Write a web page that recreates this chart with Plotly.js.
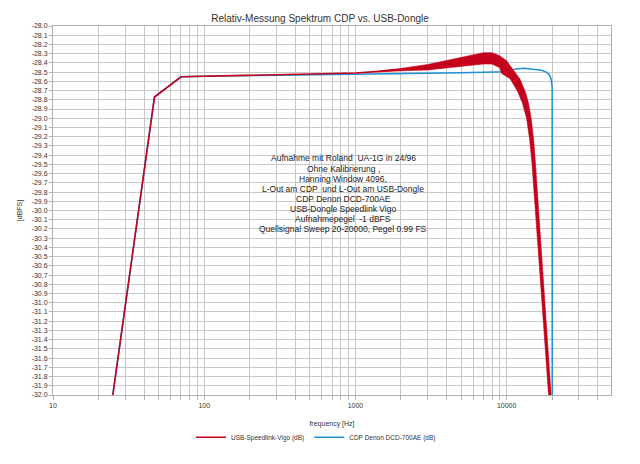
<!DOCTYPE html>
<html><head><meta charset="utf-8">
<script src="https://cdn.plot.ly/plotly-3.0.1.min.js"></script>
<style>html,body{margin:0;padding:0;background:#fff;}#chart{width:640px;height:464px;}</style>
</head><body><div id="chart"></div>
<script>
// ---- data ----
const chartTitle = 'Relativ-Messung Spektrum CDP vs. USB-Dongle';
const xTitle = 'frequency [Hz]';
const yTitle = '[dBFS]';
const seriesNames = ['USB-Speedlink-Vigo (dB)', 'CDP Denon DCD-700AE (dB)'];

const redFreq = [23.44, 46.88, 70.31, 93.75, 140.6, 210.9, 304.7, 492.2, 703.1, 1008,
  1430, 2000, 3000, 4000, 5000, 6000, 7000, 8000, 9000, 10000,
  11365, 12545, 13335, 14020, 14590, 15080, 15580, 16130, 16730, 17350,
  18090, 18850, 19290, 19680];
const redDb = [-32.30, -28.77, -28.55, -28.545, -28.54, -28.53, -28.525, -28.52, -28.515, -28.51,
  -28.492, -28.473, -28.447, -28.415, -28.388, -28.367, -28.351, -28.351, -28.383, -28.447,
  -28.574, -28.713, -28.840, -29.0, -29.213, -29.479, -29.798, -30.170, -30.543, -30.915,
  -31.340, -31.766, -32.0, -32.191];

// ripple band of the USB series (outer = top/right edge, inner = bottom/left edge)
const bandOuterFreq = [1430, 2000, 3000, 4000, 5000, 6000, 7000, 8000, 9000, 10000,
  12220, 13290, 13960, 14520, 15040, 15490, 15960, 16510, 17740, 19210, 20040];
const bandOuterDb = [-28.487, -28.460, -28.418, -28.375, -28.338, -28.311, -28.290, -28.290, -28.322, -28.378,
  -28.574, -28.713, -28.840, -29.0, -29.213, -29.479, -29.798, -30.170, -30.915, -31.766, -32.191];
const bandInnerFreq = [1430, 2000, 3000, 4000, 5000, 6000, 7000, 8000, 9000, 9270,
  10570, 11850, 12740, 13540, 14150, 14690, 15200, 15770, 16990, 18490, 19300];
const bandInnerDb = [-28.497, -28.486, -28.476, -28.455, -28.438, -28.423, -28.412, -28.412, -28.452, -28.515,
  -28.574, -28.713, -28.840, -29.0, -29.213, -29.479, -29.798, -30.170, -30.915, -31.766, -32.191];

const blueFreq = [23.44, 46.88, 70.31, 93.75, 140.6, 304.7, 1008, 2000, 3000, 5000,
  7000, 9000, 10000, 10800, 11400, 13000, 15500, 17000, 18300, 19200,
  19700, 19992, 20016];
const blueDb = [-32.30, -28.77, -28.55, -28.545, -28.54, -28.535, -28.527, -28.517, -28.512, -28.508,
  -28.505, -28.50, -28.495, -28.48, -28.465, -28.458, -28.468, -28.48, -28.50, -28.53,
  -28.58, -28.66, -32.5];

const xTickVals = [10,20,30,40,50,60,70,80,90,100,200,300,400,500,600,700,800,900,1000,
  2000,3000,4000,5000,6000,7000,8000,9000,10000,20000,30000,40000];
const xTickText = xTickVals.map(v => ([10,100,1000,10000].includes(v) ? String(v) : ''));
const yTickVals = [];
for (let i = 0; i <= 40; i++) yTickVals.push(-28 - i / 10);
const yTickText = yTickVals.map(v => v.toFixed(1));

const noteLines = [
  'Aufnahme mit Roland  UA-1G in 24/96',
  'Ohne Kalibrierung ,',
  'Hanning Window 4096,',
  'L-Out am CDP  und L-Out am USB-Dongle',
  'CDP Denon DCD-700AE',
  'USB-Dongle Speedlink Vigo',
  'Aufnahmepegel  -1 dBFS',
  'Quellsignal Sweep 20-20000, Pegel 0.99 FS'
];

// ---- colours ----
const RED = '#c4001c';
const BLUE = '#1f8fd4';

const traces = [
  {x: blueFreq, y: blueDb, type: 'scatter', mode: 'lines', name: seriesNames[1],
   line: {color: BLUE, width: 1.5}, legendrank: 2},
  {x: bandOuterFreq.concat(bandInnerFreq.slice().reverse()),
   y: bandOuterDb.concat(bandInnerDb.slice().reverse()),
   type: 'scatter', mode: 'lines', fill: 'toself', fillcolor: RED,
   line: {color: RED, width: 0.6}, showlegend: false, hoverinfo: 'skip'},
  {x: redFreq, y: redDb, type: 'scatter', mode: 'lines', name: seriesNames[0],
   line: {color: RED, width: 1.6}, legendrank: 1}
];

const L = 53, T = 26, PW = 558, PH = 376;
const px2x = p => (p - L) / PW;
const py2y = p => (T + PH - p) / PH;

const annotations = noteLines.map((t, i) => ({
  text: t, xref: 'paper', yref: 'paper', x: px2x(343.5), y: py2y(161 + i * 10.3),
  xanchor: 'center', yanchor: 'middle', showarrow: false,
  font: {size: 8.5, color: '#222', family: '"Liberation Sans", Arial, sans-serif'}
}));

const layout = {
  width: 640, height: 464,
  margin: {l: L, r: 640 - L - PW, t: T, b: 464 - T - PH, pad: 0},
  paper_bgcolor: '#fff', plot_bgcolor: '#fff',
  font: {family: '"Liberation Sans", Arial, sans-serif', size: 7, color: '#333'},
  title: {text: chartTitle, font: {size: 10, color: '#333'}, x: 0.5, xref: 'container',
          y: 1 - 18 / 464, yref: 'container', yanchor: 'middle'},
  xaxis: {type: 'log', range: [1, 4.69], tickvals: xTickVals, ticktext: xTickText,
          showgrid: true, gridcolor: '#c8c8c8', gridwidth: 1, zeroline: false,
          showline: true, linecolor: '#b0b0b0', linewidth: 1, mirror: true,
          ticks: 'outside', ticklen: 4, tickcolor: '#b0b0b0',
          tickfont: {size: 7, color: '#333'},
          title: {text: xTitle, font: {size: 7, color: '#333'}, standoff: 12}},
  yaxis: {range: [-32, -28], tickvals: yTickVals, ticktext: yTickText,
          showgrid: true, gridcolor: '#c8c8c8', gridwidth: 1, zeroline: false,
          showline: true, linecolor: '#b0b0b0', linewidth: 1, mirror: true,
          ticks: 'outside', ticklen: 3, tickcolor: '#b0b0b0',
          tickfont: {size: 7, color: '#333'},
          title: {text: yTitle, font: {size: 7, color: '#333'}, standoff: 8}},
  legend: {orientation: 'h', x: px2x(316), xanchor: 'center', y: py2y(445), yanchor: 'middle',
           font: {size: 6.5, color: '#333'}, itemwidth: 30, bgcolor: 'rgba(0,0,0,0)'},
  shapes: [{type: 'rect', xref: 'paper', yref: 'paper', layer: 'between',
            x0: px2x(262), x1: px2x(432), y0: py2y(237), y1: py2y(152),
            fillcolor: '#fff', line: {width: 0}}],
  annotations: annotations,
  showlegend: true
};

Plotly.newPlot('chart', traces, layout, {displayModeBar: false, staticPlot: true});
</script>
</body></html>
